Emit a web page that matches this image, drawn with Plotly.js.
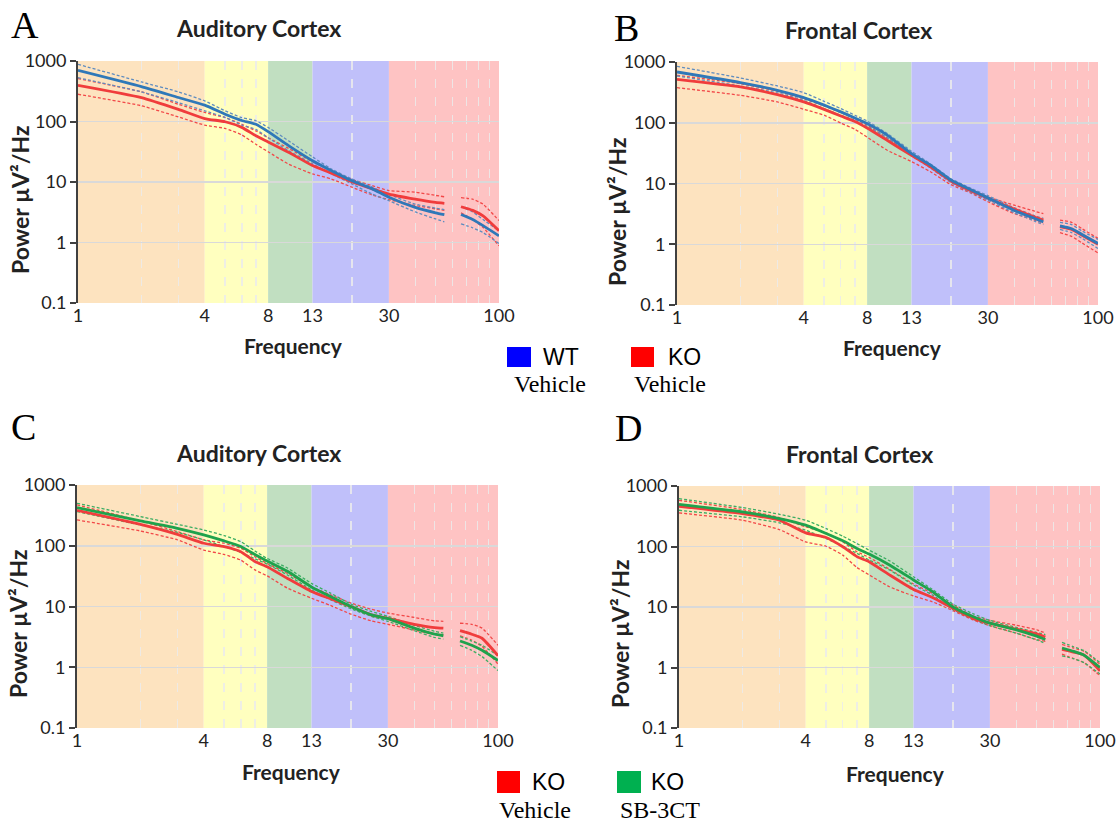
<!DOCTYPE html>
<html>
<head>
<meta charset="utf-8">
<script src="https://cdn.plot.ly/plotly-3.0.1.min.js"></script>
<style>html,body{margin:0;padding:0;background:#fff;}#chart{width:1118px;height:825px;}</style>
</head>
<body>
<div id="chart"></div>
<script>
// ---------- DATA ----------
const freq = [1,2,3,4,5,6,7,8,10,13,16,20,25,30,40,50,55,60,66,75,84,100];
// Panel A - Auditory cortex, WT vs KO vehicle
const wtA_mean = [701,378,249,186,132,104,90,68,40,22.5,15.4,10.5,7.7,5.6,3.8,3.1,2.9,null,2.9,2.4,1.9,1.29];
const wtA_hi   = [880,451,309,219,150,116,103,80,48,26,16.4,11.2,8.2,6.2,4.3,3.7,3.5,null,3.9,3.2,2.4,1.56];
const wtA_lo   = [530,309,205,150,117,87,74,54,33,20,13.6,9.3,6.3,4.9,3.2,2.45,2.2,null,2.04,1.75,1.46,0.96];
const koA_mean = [397,249,159,112,99,80,58,46,31,18.7,14,10.1,7.7,6.3,5.2,4.6,4.45,null,3.9,3.4,2.75,1.56];
const koA_hi   = [513,309,193,141,116,90,70,54,36,21.6,15.4,11,8.7,7.2,6.8,6.0,5.7,null,5.5,5.2,4.3,2.3];
const koA_lo   = [282,182,119,87,77,60,42,31.6,19.8,13.6,11.2,8.2,6.1,5.1,4.1,3.6,3.4,null,3.1,2.4,1.77,0.88];
// Panel B - Frontal cortex, WT vs KO vehicle
const wtB_mean = [685,458,342,259,195,151,120,97,62,31,20,11.4,7.8,5.8,3.6,2.66,2.34,null,2.0,1.8,1.45,1.03];
const wtB_hi   = [848,546,403,313,225,171,133,107,66,34,21,12,8.3,6.3,4.0,2.95,2.66,null,2.3,2.1,1.65,1.2];
const wtB_lo   = [589,403,310,234,171,133,110,87,56,29,18,10.4,7.1,5.3,3.3,2.4,2.1,null,1.75,1.55,1.25,0.85];
const koB_mean = [518,389,290,220,166,129,105,82,51,29,18.8,11,7.5,5.7,3.8,2.8,2.5,null,1.95,1.75,1.4,1.0];
const koB_hi   = [603,440,330,249,189,147,117,91,56,31,20,11.4,8,6.0,4.4,3.5,3.2,null,2.5,2.3,1.8,1.25];
const koB_lo   = [378,283,220,167,133,99,78,58,35,23,15.6,9.6,6.9,5.0,3.2,2.5,2.2,null,1.55,1.35,1.05,0.72];
// Panel C - Auditory cortex, KO vehicle vs KO SB-3CT
const koC_mean = [383,225,154,110,97,80,55,45,29,17.7,13.4,10,7.3,6.4,5.1,4.5,4.4,null,4.0,3.5,3.0,1.55];
const koC_hi   = [470,257,171,125,110,91,66,51,35,21,15.6,11.4,9.0,7.8,6.6,5.8,5.7,null,5.3,5.1,4.4,2.3];
const koC_lo   = [266,175,125,85,72,58,40,32,20,13.7,10.4,7.5,5.8,5.1,4.1,3.5,3.4,null,3.3,2.8,2.2,1.13];
const sbC_mean = [424,257,194,151,120,97,72,56,38,21,14.6,10,7.3,6.3,4.4,3.5,3.3,null,2.7,2.3,1.9,1.29];
const sbC_hi   = [500,302,225,182,147,117,82,62,43,24,16.6,11,8.3,6.9,4.9,3.9,3.65,null,3.2,2.7,2.3,1.55];
const sbC_lo   = [365,220,166,125,97,78,61,50,33,18.8,12.9,9.2,6.9,5.7,4.0,3.1,2.9,null,2.3,1.9,1.5,0.88];
// Panel D - Frontal cortex, KO vehicle vs KO SB-3CT
const koD_mean = [462,350,272,168,141,99,68,56,34,19.5,14.4,9.5,6.5,5.4,4.3,3.6,3.2,null,2.0,1.8,1.6,0.88];
const koD_hi   = [580,408,300,211,168,119,82,66,42,24,16.8,10.8,7.1,6.0,5.0,4.2,3.7,null,2.4,2.1,1.85,1.13];
const koD_lo   = [359,272,190,119,101,72,45,34,21.6,15.2,12.2,8.7,6.1,4.9,3.7,2.9,2.7,null,1.66,1.4,1.2,0.73];
const sbD_mean = [498,373,290,225,164,124,93,75,49.5,28,18,10,6.9,5.4,4.2,3.3,2.9,null,2.1,1.85,1.6,1.0];
const sbD_hi   = [618,440,341,272,198,148,112,87,58,31.6,19.5,11.2,7.7,6.0,4.6,3.8,3.5,null,2.6,2.2,1.9,1.2];
const sbD_lo   = [397,309,246,186,135,101,77,60,41,23,15.8,9.1,6.3,4.9,3.7,2.86,2.5,null,1.55,1.4,1.2,0.78];

// axis ticks and bands
const xTickVals = [1,4,8,13,30,100];
const xTickText = ['1','4','8','13','30','100'];
const xMinorVals = [2,3,5,6,7,20,40,50,60,70,80,90];
const yTickVals = [0.1,1,10,100,1000];
const yTickText = ['0.1','1','10','100','1000'];
const bandEdges = [1,4,8,13,30,100];
const panelTitles = ['Auditory Cortex','Frontal Cortex','Auditory Cortex','Frontal Cortex'];
const panelLetters = ['A','B','C','D'];

// ---------- STYLE ----------
const W = 1118, H = 825;
const bandColors = ['#fde3bf','#ffffbf','#c1dfc1','#c0c0fa','#fec3c3'];
const C = {
  wt: '#2f78b8', wtD: '#5f8cbf',
  ko: '#f03c3c', koD: '#f24848',
  sb: '#1fa24c', sbD: '#3cae63'
};
const sansFont = 'Lato, "Open Sans", sans-serif';
const serifFont = '"Liberation Serif", "DejaVu Serif", serif';

const fx = px => px / W;
const fy = py => 1 - py / H;

const panels = [
  {xd:[78,499], yd:[61,303]},
  {xd:[677,1098], yd:[62,305]},
  {xd:[77,498], yd:[485,728]},
  {xd:[679,1100], yd:[486,728]}
];

function meanTrace(y, color, i, name) {
  return {x: freq, y: y, type:'scatter', mode:'lines', name: name,
    xaxis: 'x'+(i===0?'':i+1), yaxis: 'y'+(i===0?'':i+1),
    line:{color:color, width:2.8, shape:'spline', smoothing:0.5},
    connectgaps:false, showlegend:false, hoverinfo:'skip'};
}
function semTrace(y, color, i) {
  return {x: freq, y: y, type:'scatter', mode:'lines',
    xaxis: 'x'+(i===0?'':i+1), yaxis: 'y'+(i===0?'':i+1),
    line:{color:color, width:1.3, dash:'3px,2px', shape:'spline', smoothing:0.5},
    connectgaps:false, showlegend:false, hoverinfo:'skip'};
}

const series = [
  [[koA_mean,koA_hi,koA_lo,C.ko,C.koD,'KO Vehicle'],[wtA_mean,wtA_hi,wtA_lo,C.wt,C.wtD,'WT Vehicle']],
  [[koB_mean,koB_hi,koB_lo,C.ko,C.koD,'KO Vehicle'],[wtB_mean,wtB_hi,wtB_lo,C.wt,C.wtD,'WT Vehicle']],
  [[koC_mean,koC_hi,koC_lo,C.ko,C.koD,'KO Vehicle'],[sbC_mean,sbC_hi,sbC_lo,C.sb,C.sbD,'KO SB-3CT']],
  [[koD_mean,koD_hi,koD_lo,C.ko,C.koD,'KO Vehicle'],[sbD_mean,sbD_hi,sbD_lo,C.sb,C.sbD,'KO SB-3CT']]
];

const traces = [];
series.forEach((grp, i) => {
  grp.forEach(s => {
    traces.push(semTrace(s[1], s[4], i));
    traces.push(semTrace(s[2], s[4], i));
  });
  grp.forEach(s => traces.push(meanTrace(s[0], s[3], i, s[5])));
});

const layout = {
  width: W, height: H,
  margin:{l:0,r:0,t:0,b:0},
  paper_bgcolor:'#ffffff', plot_bgcolor:'#ffffff',
  showlegend:false,
  font:{family:sansFont, color:'#222'},
  shapes:[], annotations:[]
};

panels.forEach((p, i) => {
  const sfx = i===0 ? '' : String(i+1);
  layout['xaxis'+sfx] = {
    domain:[fx(p.xd[0]), fx(p.xd[1])], anchor:'y'+sfx,
    type:'log', range:[0,2], tickmode:'array', tickvals:xTickVals, ticktext:xTickText,
    showgrid:false, showline:false, zeroline:false, ticks:'',
    tickfont:{family:sansFont, size:18, color:'#222'},
    minor:{tickmode:'array', tickvals:xMinorVals, showgrid:true, gridcolor:'rgba(235,235,235,0.85)', griddash:'dash', gridwidth:1.4, ticks:''},
    fixedrange:true
  };
  layout['yaxis'+sfx] = {
    domain:[fy(p.yd[1]), fy(p.yd[0])], anchor:'x'+sfx,
    type:'log', range:[-1,3], tickmode:'array', tickvals:yTickVals, ticktext:yTickText,
    showgrid:true, gridcolor:'#d9d9d9', gridwidth:1.5,
    showline:true, linecolor:'#404040', linewidth:2,
    ticks:'outside', ticklen:6, tickwidth:2, tickcolor:'#404040',
    tickfont:{family:sansFont, size:18, color:'#222'},
    fixedrange:true
  };
  for (let b = 0; b < bandColors.length; b++) {
    layout.shapes.push({type:'rect', layer:'below', xref:'x'+sfx, yref:'y'+sfx+' domain',
      x0:bandEdges[b], x1:bandEdges[b+1], y0:0, y1:1, fillcolor:bandColors[b], line:{width:0}});
  }
});

// text annotations
function ann(text, x, y, opts) {
  layout.annotations.push(Object.assign({text:text, xref:'paper', yref:'paper', x:fx(x), y:fy(y),
    xanchor:'center', yanchor:'middle', showarrow:false}, opts));
}
const letterPos = [[25,25],[626,28],[24,427],[628,428]];
const titlePos = [[258,28],[858,30],[258,453],[859,454]];
const xtPos = [[293,345],[892,347],[291,771],[895,773]];
const ytPos = [[20,200],[617,212],[18,624],[620,634]];
for (let i = 0; i < 4; i++) {
  ann(panelLetters[i], letterPos[i][0], letterPos[i][1], {font:{family:serifFont, size:38, color:'#000'}});
  ann('<b>'+panelTitles[i]+'</b>', titlePos[i][0], titlePos[i][1], {font:{family:sansFont, size:23, color:'#222'}});
  ann('<b>Frequency</b>', xtPos[i][0], xtPos[i][1], {font:{family:sansFont, size:21, color:'#222'}});
  ann('<b>Power µV²/Hz</b>', ytPos[i][0], ytPos[i][1], {textangle:-90, font:{family:sansFont, size:23, color:'#222'}});
}

// legends
const legends = [
  {items:[{sq:[507,531,347,367], col:'#0000ff', top:'WT', tx:561, bot:'Vehicle', bx:550},
          {sq:[631,654,347,367], col:'#ff0000', top:'KO', tx:684, bot:'Vehicle', bx:670}], ty:357, by:384},
  {items:[{sq:[497,520,771,793], col:'#ff0000', top:'KO', tx:548, bot:'Vehicle', bx:535},
          {sq:[617,641,771,793], col:'#00b050', top:'KO', tx:667, bot:'SB-3CT', bx:660}], ty:782, by:810}
];
legends.forEach(L => {
  L.items.forEach(it => {
    layout.shapes.push({type:'rect', xref:'paper', yref:'paper', x0:fx(it.sq[0]), x1:fx(it.sq[1]),
      y0:fy(it.sq[3]), y1:fy(it.sq[2]), fillcolor:it.col, line:{width:0}});
    ann(it.top, it.tx, L.ty, {font:{family:'"Liberation Sans", Arial, sans-serif', size:23, color:'#000'}});
    ann(it.bot, it.bx, L.by, {font:{family:serifFont, size:24, color:'#000'}});
  });
});

Plotly.newPlot('chart', traces, layout, {staticPlot:true, displayModeBar:false});
</script>
</body>
</html>
